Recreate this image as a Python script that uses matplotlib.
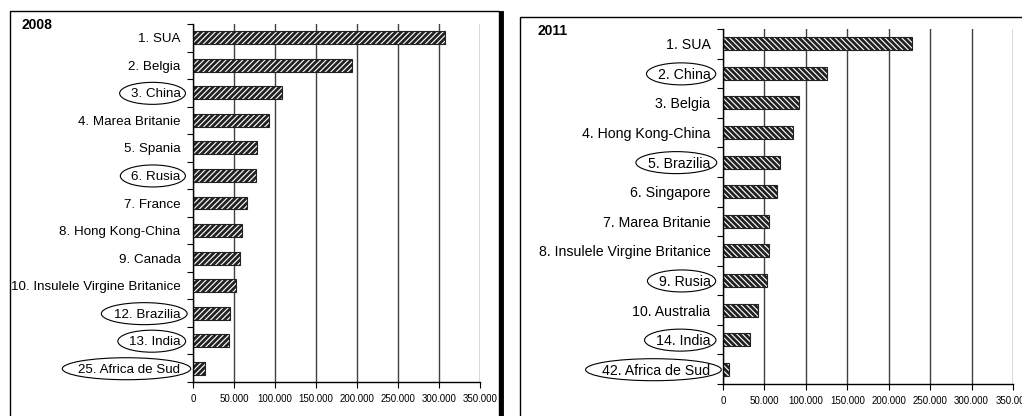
import numpy as np
import matplotlib.pyplot as plt
from matplotlib.patches import Rectangle, Ellipse
from matplotlib.lines import Line2D
from matplotlib.ticker import FuncFormatter

plt.rcParams['font.family'] = ['Liberation Sans', 'DejaVu Sans']
plt.rcParams['hatch.linewidth'] = 2.0

labels_2008 = ["1. SUA", "2. Belgia", "3. China", "4. Marea Britanie", "5. Spania",
               "6. Rusia", "7. France", "8. Hong Kong-China", "9. Canada",
               "10. Insulele Virgine Britanice", "12. Brazilia", "13. India",
               "25. Africa de Sud"]
values_2008 = [307000, 194000, 109000, 92500, 77500, 76500, 66000, 60000, 57500,
               52500, 45000, 44500, 14500]
circled_2008 = ["3. China", "6. Rusia", "12. Brazilia", "13. India", "25. Africa de Sud"]

labels_2011 = ["1. SUA", "2. China", "3. Belgia", "4. Hong Kong-China", "5. Brazilia",
               "6. Singapore", "7. Marea Britanie", "8. Insulele Virgine Britanice",
               "9. Rusia", "10. Australia", "14. India", "42. Africa de Sud"]
values_2011 = [228500, 125500, 91500, 84500, 68500, 65000, 55500, 55000, 53500,
               42500, 32000, 7500]
circled_2011 = ["2. China", "5. Brazilia", "9. Rusia", "14. India", "42. Africa de Sud"]

xticks = [0, 50000, 100000, 150000, 200000, 250000, 300000, 350000]

W, H = 1022, 416
fig = plt.figure(figsize=(W / 100, H / 100), dpi=100)


def fx(px):
    return px / W


def fy(py):
    return 1 - py / H


def panel(rect, labels, values, hatch, year, bar_h, title_xy, lab_size):
    ax = fig.add_axes(rect)
    n = len(labels)
    pos = np.arange(n)
    ax.set_axisbelow(True)
    ax.grid(axis='x', color='#404040', linewidth=1.0)
    ax.barh(pos, values, height=bar_h, color='white', edgecolor='#222222',
            hatch=hatch, linewidth=0.8)
    ax.set_xlim(0, 350000)
    ax.set_ylim(n - 0.5, -0.5)
    ax.set_xticks(xticks)
    ax.xaxis.set_major_formatter(FuncFormatter(lambda v, p: f"{int(v):,}".replace(",", ".")))
    ax.tick_params(axis='x', labelsize=7, length=4, width=0.8, pad=5)
    ax.set_yticks(np.arange(n + 1) - 0.5)
    ax.set_yticklabels([])
    ax.set_yticks(pos, minor=True)
    ax.set_yticklabels(labels, minor=True)
    ax.tick_params(axis='y', which='major', length=4, width=0.8)
    ax.tick_params(axis='y', which='minor', length=0, labelsize=lab_size, pad=9)
    ax.spines['top'].set_visible(False)
    ax.spines['right'].set_visible(False)
    ax.spines['left'].set_linewidth(1.0)
    ax.spines['bottom'].set_linewidth(1.0)
    fig.text(fx(title_xy[0]), fy(title_xy[1]), year, fontsize=10, fontweight='bold',
             ha='left', va='center')
    return ax


ax1 = panel([fx(193), fy(382), fx(480) - fx(193), fy(24) - fy(382)],
            labels_2008, values_2008, '//////', "2008", 0.47, (22, 25), 9.6)
ax2 = panel([fx(723), fy(384), fx(1013) - fx(723), fy(29) - fy(384)],
            labels_2011, values_2011, '\\\\\\\\\\\\', "2011", 0.44, (537, 31), 10.2)

# ellipses around highlighted labels
fig.canvas.draw()
for ax, circled in [(ax1, circled_2008), (ax2, circled_2011)]:
    for t in ax.get_yticklabels(minor=True):
        if t.get_text() in circled:
            bb = t.get_window_extent()
            cx = (bb.x0 + bb.x1) / 2 - 3
            cy = (bb.y0 + bb.y1) / 2 + 1
            w = bb.width * 1.2 + 6
            fig.patches.append(Ellipse((cx / W, cy / H), w / W, 22 / H,
                                       transform=fig.transFigure, fill=False,
                                       edgecolor='black', linewidth=0.8))

# panel frames
fig.patches.append(Rectangle((fx(10), fy(420)), fx(499) - fx(10), fy(11) - fy(420),
                             transform=fig.transFigure, fill=False, edgecolor='black',
                             linewidth=1.0))
fig.lines.append(Line2D([fx(501), fx(501)], [fy(420), fy(13)], transform=fig.transFigure,
                        color='black', linewidth=3.5))
fig.patches.append(Rectangle((fx(520), fy(420)), fx(1030) - fx(520), fy(17) - fy(420),
                             transform=fig.transFigure, fill=False, edgecolor='black',
                             linewidth=1.0))

fig.savefig('out.png', dpi=100)
